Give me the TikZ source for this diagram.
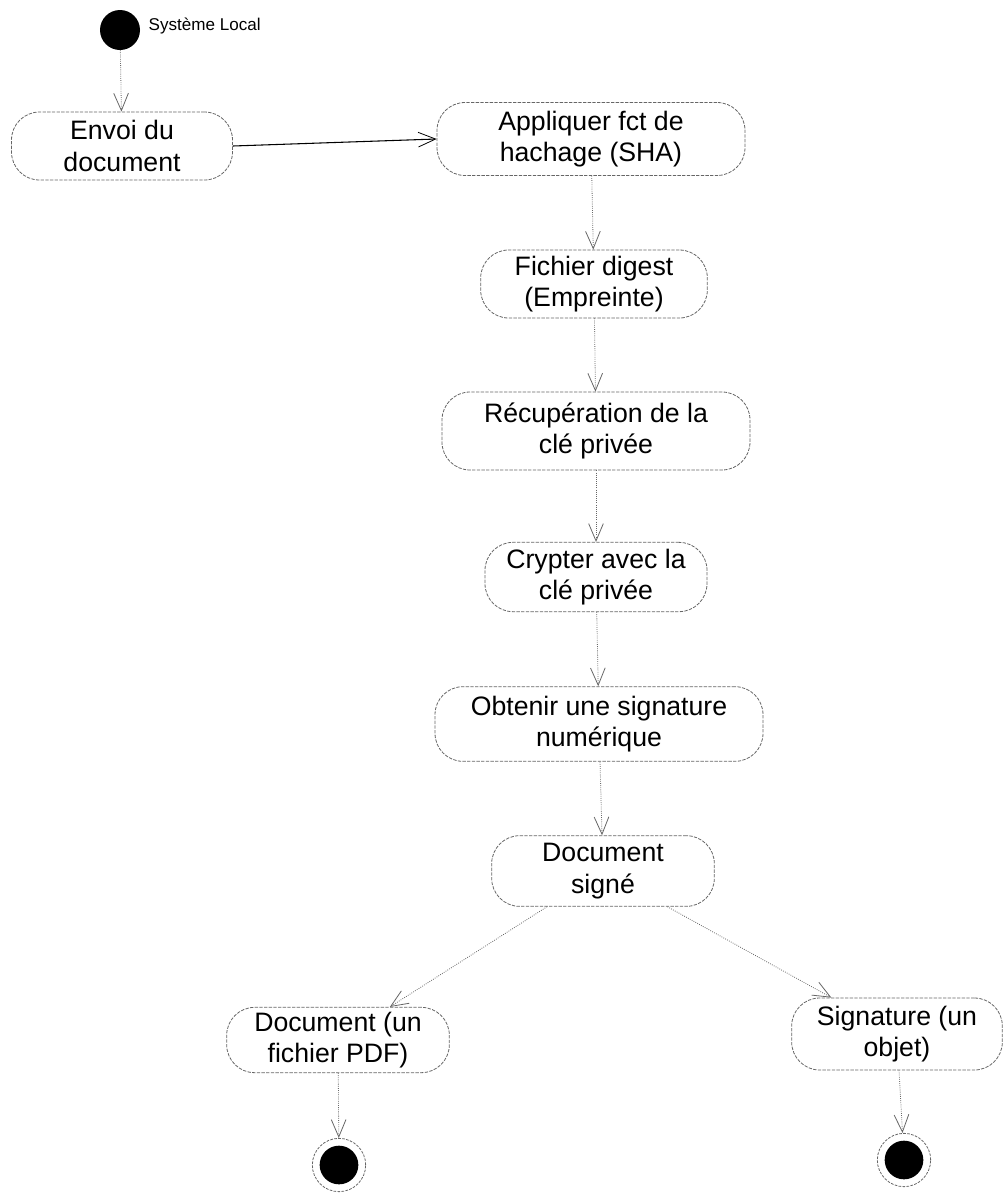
\documentclass[tikz,border=0pt]{standalone}
\usepackage{fontspec}
\setmainfont{Liberation Sans}
\usetikzlibrary{arrows.meta}
\begin{document}
\begin{tikzpicture}[x=0.75pt,y=-0.75pt,
  act/.style={draw=black!60, line width=0.6pt, dash pattern=on 2.5pt off 1pt,
    rounded corners=21pt, rectangle, inner sep=0pt, align=center,
    font=\fontsize{20}{23.5}\selectfont},
  flow/.style={draw=black!60, line width=0.6pt, densely dotted,
    -{Straight Barb[length=13pt,width=11pt,line width=0.6pt]}},
  solidflow/.style={draw=black, line width=0.8pt,
    -{Straight Barb[length=13pt,width=11pt,line width=0.6pt]}},
  startnode/.style={circle, fill=black, inner sep=0pt, minimum size=30pt},
  endnode/.style={circle, draw=black!60, dash pattern=on 2pt off 1pt, line width=0.6pt,
    inner sep=0pt, minimum size=40pt,
    path picture={\fill[black] (path picture bounding box.center) circle[radius=14.5pt];}}
]
\useasboundingbox (0,0) rectangle (1005,1193);

\node[startnode] (start) at (120,30) {};
\node[anchor=west, font=\fontsize{12.8}{15}\selectfont] (lbl) at (144,26) {Système Local};

\node[act, minimum width=165.75pt, minimum height=51pt] (envoi) at (122,146) {Envoi du\\document};
\node[act, minimum width=231pt, minimum height=54.75pt] (appl) at (591,139) {Appliquer fct de\\hachage (SHA)};
\node[act, minimum width=170pt, minimum height=51pt] (fich) at (594,284) {Fichier digest\\(Empreinte)};
\node[act, minimum width=231pt, minimum height=58.5pt] (recup) at (596,431) {Récupération de la\\clé privée};
\node[act, minimum width=166.5pt, minimum height=52pt] (crypt) at (596,577) {Crypter avec la\\clé privée};
\node[act, minimum width=246pt, minimum height=56pt] (obt) at (599,724) {Obtenir une signature\\numérique};
\node[act, minimum width=167pt, minimum height=53pt] (ds) at (603,871) {Document\\signé};
\node[act, minimum width=167pt, minimum height=49pt] (pdf) at (338,1040) {Document (un\\fichier PDF)};
\node[act, minimum width=158pt, minimum height=54pt] (sig) at (897,1034) {Signature (un\\objet)};

\node[endnode] (end1) at (339,1165) {};
\node[endnode] (end2) at (904,1160) {};

\draw[flow] (start) -- (envoi);
\draw[solidflow] (envoi.east) -- (appl.west);
\draw[flow] (appl) -- (fich);
\draw[flow] (fich) -- (recup);
\draw[flow] (recup) -- (crypt);
\draw[flow] (crypt) -- (obt);
\draw[flow] (obt) -- (ds);
\draw[flow] (ds) -- (pdf);
\draw[flow] (ds) -- (sig);
\draw[flow] (pdf) -- (end1);
\draw[flow] (sig) -- (end2);
\end{tikzpicture}
\end{document}
